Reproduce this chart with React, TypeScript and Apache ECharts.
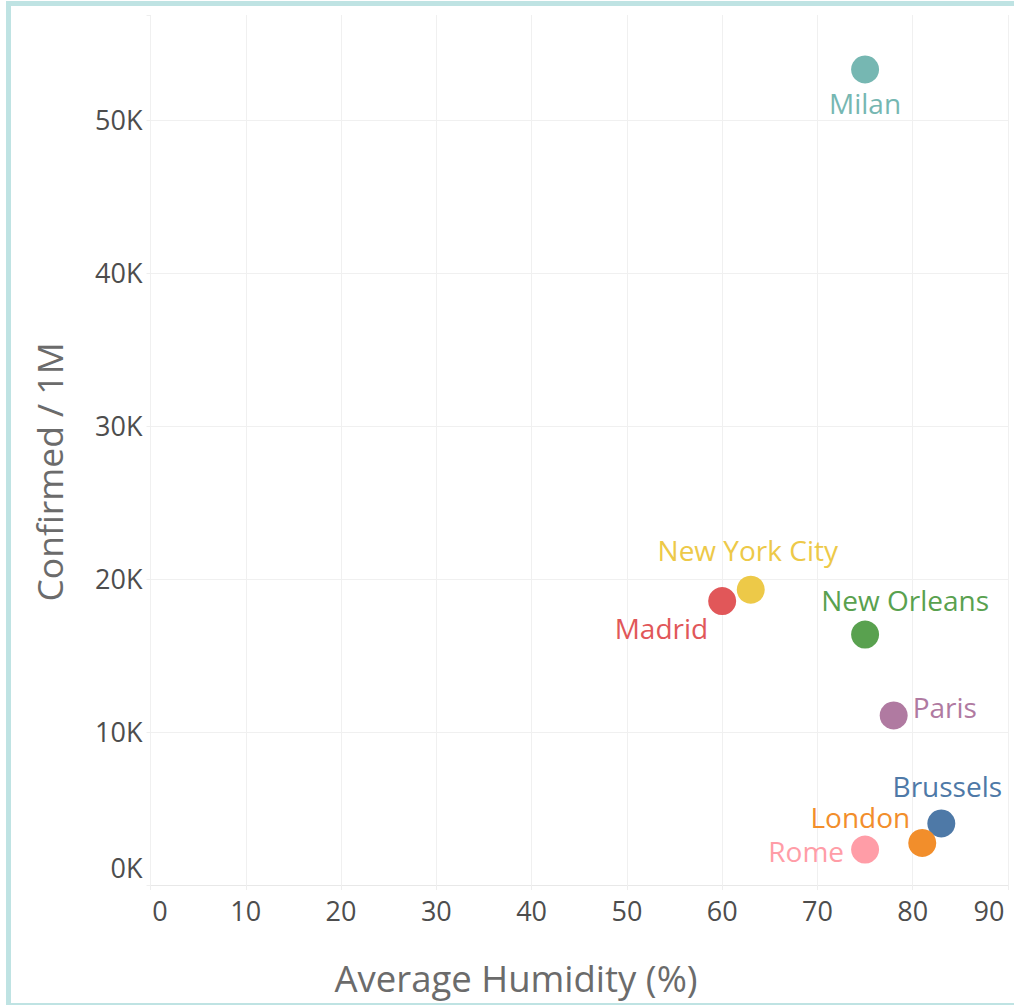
import React, { useEffect, useRef } from "react";
import * as echarts from "echarts";

const cities = ["Milan", "New York City", "Madrid", "New Orleans", "Paris", "Brussels", "London", "Rome"];
const humidity = [75, 63, 60, 75, 78, 83, 81, 75];
const confirmedPer1M = [53300, 19300, 18560, 16370, 11080, 4020, 2750, 2320];
const palette = ["#76b7b2", "#edc948", "#e15759", "#59a14f", "#b07aa1", "#4e79a7", "#f28e2b", "#ff9da7"];
const xTicks = [0, 10, 20, 30, 40, 50, 60, 70, 80, 90];
const yTicks = [0, 10000, 20000, 30000, 40000, 50000];

// label placement (layout only)
const labelLayout: Record<string, { align: string; offset: [number, number] }> = {
  Milan: { align: "center", offset: [0, 34] },
  "New York City": { align: "center", offset: [-3, -40] },
  Madrid: { align: "right", offset: [-14, 27] },
  "New Orleans": { align: "center", offset: [40, -35] },
  Paris: { align: "left", offset: [19, -8] },
  Brussels: { align: "center", offset: [6, -37] },
  London: { align: "right", offset: [-12, -26] },
  Rome: { align: "right", offset: [-21, 1] },
};

const FONT = "Open Sans";

export default function App() {
  const ref = useRef<HTMLDivElement>(null);
  useEffect(() => {
    document.body.style.overflow = "hidden";
    const chart = echarts.init(ref.current!, null, { renderer: "svg" });
    const data = cities.map((c, i) => ({
      name: c,
      value: [humidity[i], confirmedPer1M[i]],
      itemStyle: { color: palette[i], opacity: 1 },
      label: {
        show: true,
        formatter: c,
        position: "inside",
        align: labelLayout[c].align,
        verticalAlign: "middle",
        offset: labelLayout[c].offset,
        color: palette[i],
        fontSize: 28,
        fontFamily: FONT,
      },
    }));
    chart.setOption({
      animation: false,
      backgroundColor: "#ffffff",
      grid: { left: 139.5, top: 9, width: 857.5, height: 870 },
      xAxis: {
        type: "value",
        min: 0,
        max: 90,
        interval: 10,
        axisLine: { show: true, lineStyle: { color: "#e8e8e8", width: 1 } },
        axisTick: { show: true, length: 5, lineStyle: { color: "#eeeeee" } },
        splitLine: { show: true, lineStyle: { color: "#f0f0f0", width: 1 } },
        axisLabel: {
          margin: 12,
          fontSize: 27,
          fontFamily: FONT,
          color: "#4d4d4d",
          formatter: (v: number) => {
            if (!xTicks.includes(v)) return "";
            if (v === 0) return "{first|0}";
            if (v === 90) return "{last|90}";
            return String(v);
          },
          rich: {
            first: { padding: [0, 0, 0, 19], fontSize: 27, fontFamily: FONT, color: "#4d4d4d" },
            last: { padding: [0, 38, 0, 0], fontSize: 27, fontFamily: FONT, color: "#4d4d4d" },
          },
        },
      },
      yAxis: {
        type: "value",
        min: 0,
        max: 56860,
        interval: 10000,
        axisLine: { show: false },
        axisTick: { show: true, length: 4, lineStyle: { color: "#eeeeee" } },
        splitLine: { show: true, showMaxLine: false, lineStyle: { color: "#f0f0f0", width: 1 } },
        axisLabel: {
          margin: 8,
          fontSize: 27,
          fontFamily: FONT,
          color: "#4d4d4d",
          formatter: (v: number) => {
            if (!yTicks.includes(v)) return "";
            if (v === 0) return "{zero|0K}";
            return v / 1000 + "K";
          },
          rich: {
            zero: { padding: [0, 0, 36, 0], fontSize: 27, fontFamily: FONT, color: "#4d4d4d" },
          },
        },
      },
      graphic: [
        {
          type: "text",
          x: 505,
          y: 972,
          style: {
            text: "Average Humidity (%)",
            fontSize: 36.5,
            fontFamily: FONT,
            fill: "#6b6b6b",
            align: "center",
            verticalAlign: "middle",
          },
        },
        {
          type: "text",
          x: 38,
          y: 466,
          rotation: Math.PI / 2,
          style: {
            text: "Confirmed / 1M",
            fontSize: 35.5,
            fontFamily: FONT,
            fill: "#6b6b6b",
            align: "center",
            verticalAlign: "middle",
          },
        },
      ],
      series: [
        {
          type: "scatter",
          symbol: "circle",
          symbolSize: 28,
          data,
          emphasis: { disabled: true },
        },
      ],
    });
    return () => chart.dispose();
  }, []);
  return (
    <div
      style={{
        position: "fixed",
        left: 6,
        top: 1,
        width: 1020,
        height: 997,
        border: "5px solid #bfe3e3",
        background: "#ffffff",
      }}
    >
      <div ref={ref} style={{ width: 1020, height: 997 }} />
    </div>
  );
}
